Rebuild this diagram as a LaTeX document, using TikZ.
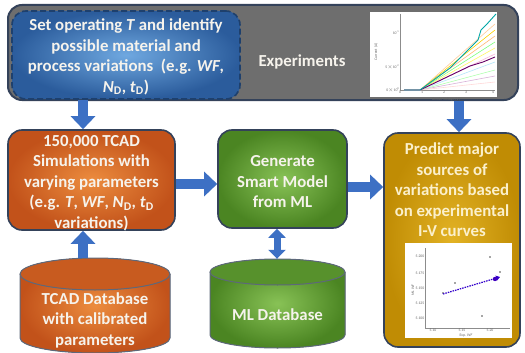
\documentclass[tikz,border=0pt]{standalone}
\usepackage{fontspec}
\setmainfont{Carlito}
\usetikzlibrary{arrows.meta}

\definecolor{arrowblue}{HTML}{3D70C4}
\definecolor{frame}{HTML}{34425A}
\definecolor{grayfill}{HTML}{6E6E6E}
\definecolor{blueIn}{HTML}{6FA8E0}
\definecolor{blueOut}{HTML}{2B5C9C}
\definecolor{orIn}{HTML}{EC8C3E}
\definecolor{orOut}{HTML}{C2521A}
\definecolor{grIn}{HTML}{88C256}
\definecolor{grOut}{HTML}{4B8522}
\definecolor{yeIn}{HTML}{E2B224}
\definecolor{yeOut}{HTML}{C08C04}
\definecolor{txt}{HTML}{F6F3EC}
\definecolor{txtwarm}{HTML}{FBF0CC}

\tikzset{
  boxtext/.style={text=txt, font=\bfseries\fontsize{16.8}{20.5}\selectfont, align=center, inner sep=0pt},
  card/.style={draw=frame, line width=1.6pt, rounded corners=14pt, inner sep=0pt},
  graybox/.style={card, fill=grayfill, line width=2pt},
  bluebox/.style={card, draw=blueOut!70!black, dashed, dash pattern=on 6pt off 3pt, line width=1.6pt, inner color=blueIn, outer color=blueOut},
  orangebox/.style={card, inner color=orIn, outer color=orOut},
  greenbox/.style={card, inner color=grIn, outer color=grOut},
  yellowbox/.style={card, inner color=yeIn, outer color=yeOut},
  bigarrow/.style={draw=arrowblue, line width=10pt, -{Triangle[width=24pt,length=13pt]}},
  dblarrow/.style={draw=arrowblue, line width=7pt, {Triangle[width=17pt,length=9pt]}-{Triangle[width=17pt,length=9pt]}},
  tick/.style={font=\fontsize{3.8}{4}\selectfont, text=black!60, inner sep=0.5pt},
  cylline/.style={draw=frame!80, line width=1pt},
}

\begin{document}
\begin{tikzpicture}[x=1pt, y=-1pt]
\useasboundingbox (0,0) rectangle (525,353);

% ---- top band: inputs and experiments
\node[graybox, minimum width=510pt, minimum height=95pt] (exp) at (263,52.5) {};
\node[bluebox, minimum width=228pt, minimum height=88pt] (setT) at (126,55) {};
\node[boxtext] (setTtext) at (126,57) {Set operating \textit{T} and identify\\possible material and\\process variations\ \ (e.g. \textit{WF},\\\textit{N}\textsubscript{D}, \textit{t}\textsubscript{D})};
\node[boxtext] (exptext) at (302,62) {Experiments};

% measured I-V curves
\node[fill=white, minimum width=127pt, minimum height=85pt, inner sep=0pt] (ivplot) at (433.5,54.5) {};
\draw[black!45, line width=0.4pt] (400,14) -- (400,90) -- (495,90);
\foreach \yy/\lab in {33/{10\textsuperscript{-1}}, 67/{5$\times$10\textsuperscript{-2}}, 90/{0$\times$10\textsuperscript{0}}}
  \node[tick, anchor=east] at (400,\yy) {\lab};
\foreach \xx/\lab in {400/0, 422/1, 444/2, 466/3, 493/4}
  \node[tick, anchor=north] at (\xx,90.5) {\lab};
\node[tick] (ivx) at (446,99) {Anode Voltage (V)};
\node[tick, rotate=90] (ivy) at (376,52) {Current (A)};
\foreach \ey/\col in {24/orange!40, 30/yellow!70!orange, 36/orange!55, 42/green!50, 48/yellow!60, 54/magenta!30, 62/cyan!30, 70/green!30, 76/violet!30, 82/pink!60}
  \draw[\col, line width=0.6pt] (404,90) -- (420,90) -- (495,\ey);
\draw[violet!80!black, line width=0.9pt] (404,90) -- (420,90) -- (445,78) -- (470,66) -- (483,62) -- (495,57);
\draw[teal!70!cyan, line width=0.9pt] (404,90) -- (420,90) -- (450,68) -- (478,40) -- (481,30) -- (487,24) -- (496,14);

% ---- middle row
\node[orangebox, minimum width=167pt, minimum height=100pt] (sim) at (91.5,180) {};
\node[boxtext] (simtext) at (91.5,183) {150,000 TCAD\\Simulations with\\varying parameters\\(e.g. \textit{T}, \textit{WF}, \textit{N}\textsubscript{D}, \textit{t}\textsubscript{D}\\variations)};

\node[greenbox, minimum width=129pt, minimum height=98pt] (smart) at (282.5,179) {};
\node[boxtext] (smarttext) at (282.5,182) {Generate\\Smart Model\\from ML};

\node[yellowbox, minimum width=136pt, minimum height=214pt] (pred) at (452,240) {};
\node[boxtext, text=txtwarm, anchor=north] (predtext) at (452,143) {Predict major\\sources of\\variations based\\on experimental\\I-V curves};

% predicted vs experimental work function
\node[fill=white, minimum width=107pt, minimum height=95pt, inner sep=0pt] (scplot) at (458.5,290.5) {};
\draw[black!45, line width=0.4pt] (425,248) -- (425,328) -- (510,328);
\foreach \yy/\lab in {256/5.200, 273/5.175, 288/5.150, 303/5.125, 318/5.100}
  \node[tick, anchor=east] at (425,\yy) {\lab};
\foreach \xx/\lab in {433/5.10, 462/5.15, 490/5.20}
  \node[tick, anchor=north] at (\xx,328.5) {\lab};
\node[tick] (scx) at (466,336) {Exp. \textit{WF}};
\node[tick, rotate=90] (scy) at (413,290) {ML \textit{WF}};
\foreach \px/\py in {490/257, 455/283, 482/316, 497/277, 443/293, 500/272}
  \fill[black!70] (\px,\py) circle (0.9pt);
\draw[blue!60!violet, line width=1.2pt, dash pattern=on 1.5pt off 1pt, -{Triangle[width=5pt,length=4pt]}] (443,294) -- (500,277);
\fill[blue!50!violet] (495,279) circle (2.2pt);

% ---- databases
\fill[inner color=orIn, outer color=orOut] (20,274) -- (20,338) arc[start angle=180, end angle=360, x radius=75pt, y radius=15pt] -- (170,274) arc[start angle=0, end angle=180, x radius=75pt, y radius=16pt] -- cycle;
\draw[cylline] (20,274) -- (20,338) arc[start angle=180, end angle=360, x radius=75pt, y radius=15pt] -- (170,274);
\draw[cylline, fill=orOut!85!orIn] (95,274) ellipse [x radius=75pt, y radius=16pt];
\node[inner sep=0pt, minimum width=150pt, minimum height=95pt] (tcaddb) at (95,305.5) {};
\node[boxtext] (tcadtext) at (95,320) {TCAD Database\\with calibrated\\parameters};

\fill[inner color=grIn, outer color=grOut] (210,272) -- (210,335) arc[start angle=180, end angle=360, x radius=67.5pt, y radius=13pt] -- (345,272) arc[start angle=0, end angle=180, x radius=67.5pt, y radius=13pt] -- cycle;
\draw[cylline] (210,272) -- (210,335) arc[start angle=180, end angle=360, x radius=67.5pt, y radius=13pt] -- (345,272);
\draw[cylline, fill=grOut!80!grIn] (277.5,272) ellipse [x radius=67.5pt, y radius=13pt];
\node[inner sep=0pt, minimum width=135pt, minimum height=89pt] (mldb) at (277.5,303.5) {};
\node[boxtext] (mltext) at (277.5,315) {ML Database};

% ---- connectors
\coordinate (colA) at (83,0);
\coordinate (colB) at (277,0);
\coordinate (colC) at (459,0);
\draw[bigarrow] (setT.south -| colA) -- (sim.north -| colA);
\draw[bigarrow] (tcaddb.north -| colA) -- (sim.south -| colA);
\draw[bigarrow] (sim.east |- 0,184) -- (smart.west |- 0,184);
\draw[bigarrow] (smart.east |- 0,187) -- (pred.west |- 0,187);
\draw[bigarrow] (exp.south -| colC) -- (pred.north -| colC);
\draw[dblarrow] (smart.south -| colB) -- (mldb.north -| colB);
\end{tikzpicture}
\end{document}
